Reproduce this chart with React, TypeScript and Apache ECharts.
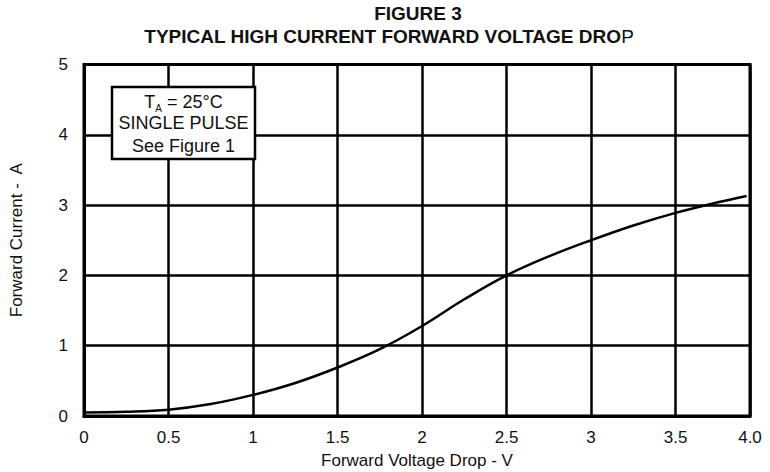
import React, { useEffect, useRef } from "react";
import * as echarts from "echarts";

const voltage = [0, 0.25, 0.5, 0.75, 1.0, 1.25, 1.5, 1.75, 2.0, 2.25, 2.5, 2.75, 3.0, 3.25, 3.5, 3.75, 3.92];
const current = [0.05, 0.06, 0.09, 0.17, 0.3, 0.47, 0.69, 0.95, 1.28, 1.66, 2.0, 2.27, 2.5, 2.71, 2.89, 3.04, 3.13];
const xMaxLabel = "4.0";
const xAxisMax = 3.94;
const yTicks = [0, 1, 2, 3, 4, 5];

const FONT = "'Liberation Sans', Arial, Helvetica, sans-serif";

export default function App() {
  const ref = useRef<HTMLDivElement>(null);
  useEffect(() => {
    if (!ref.current) return;
    const chart = echarts.init(ref.current, undefined, { renderer: "svg" });
    const option: any = {
      animation: false,
      backgroundColor: "#fff",
      grid: {
        left: 84,
        right: 20,
        top: 64.5,
        bottom: 56,
        containLabel: false,
        outerBoundsMode: "none",
        show: true,
        borderColor: "#000",
        borderWidth: 3,
        backgroundColor: "transparent",
      },
      xAxis: {
        type: "value",
        min: 0,
        max: xAxisMax,
        interval: 0.5,
        name: "Forward Voltage Drop - V",
        nameLocation: "middle",
        nameGap: 36,
        nameTextStyle: { fontFamily: FONT, fontSize: 17, color: "#111" },
        axisLine: { show: true, lineStyle: { color: "#000", width: 3 } },
        axisTick: { show: false },
        axisLabel: {
          fontFamily: FONT,
          fontSize: 17,
          color: "#111",
          margin: 13,
          formatter: (v: number) => (v >= xAxisMax - 1e-6 ? xMaxLabel : String(v)),
        },
        splitLine: { show: true, lineStyle: { color: "#000", width: 2.5 } },
      },
      yAxis: {
        type: "value",
        min: yTicks[0],
        max: yTicks[yTicks.length - 1],
        interval: 1,
        name: "Forward Current -  A",
        nameLocation: "middle",
        nameGap: 59,
        nameRotate: 90,
        nameTextStyle: { fontFamily: FONT, fontSize: 17, color: "#111" },
        axisLine: { show: true, lineStyle: { color: "#000", width: 3 } },
        axisTick: { show: false },
        axisLabel: { fontFamily: FONT, fontSize: 17, color: "#111", margin: 16 },
        splitLine: { show: true, lineStyle: { color: "#000", width: 2.5 } },
      },
      series: [
        {
          type: "line",
          data: voltage.map((v, i) => [v, current[i]]),
          smooth: 0.4,
          showSymbol: false,
          lineStyle: { color: "#000", width: 2.5 },
          z: 3,
        },
      ],
      graphic: [
        {
          type: "text",
          x: 418,
          y: 13,
          style: {
            text: "FIGURE 3",
            fontFamily: FONT,
            fontWeight: "bold",
            fontSize: 19,
            fill: "#111",
            textAlign: "center",
            textVerticalAlign: "middle",
          },
        },
        {
          type: "text",
          x: 389,
          y: 36,
          style: {
            text: "{b|TYPICAL HIGH CURRENT FORWARD VOLTAGE DRO}{n|P}",
            fontFamily: FONT,
            fontSize: 19,
            fill: "#111",
            textAlign: "center",
            textVerticalAlign: "middle",
            rich: {
              b: { fontFamily: FONT, fontWeight: "bold", fontSize: 19, fill: "#111" },
              n: { fontFamily: FONT, fontWeight: "normal", fontSize: 19, fill: "#111" },
            },
          },
        },
        {
          type: "rect",
          z: 100,
          shape: { x: 112, y: 87, width: 143, height: 72 },
          style: { fill: "#fff", stroke: "#000", lineWidth: 2.5 },
        },
        {
          type: "text",
          z: 101,
          x: 183.5,
          y: 102,
          style: {
            text: "{a|T}{s|A}{a| = 25°C}",
            fontFamily: FONT,
            fontSize: 18,
            fill: "#111",
            textAlign: "center",
            textVerticalAlign: "middle",
            rich: {
              a: { fontFamily: FONT, fontSize: 18, fill: "#111", lineHeight: 22, verticalAlign: "middle" },
              s: { fontFamily: FONT, fontSize: 10, fill: "#111", lineHeight: 22, verticalAlign: "bottom" },
            },
          },
        },
        {
          type: "text",
          z: 101,
          x: 183.5,
          y: 123,
          style: {
            text: "SINGLE PULSE",
            fontFamily: FONT,
            fontSize: 18,
            fill: "#111",
            textAlign: "center",
            textVerticalAlign: "middle",
          },
        },
        {
          type: "text",
          z: 101,
          x: 183.5,
          y: 146,
          style: {
            text: "See Figure 1",
            fontFamily: FONT,
            fontSize: 18,
            fill: "#111",
            textAlign: "center",
            textVerticalAlign: "middle",
          },
        },
      ],
    };
    chart.setOption(option);
    return () => chart.dispose();
  }, []);
  return (
    <div
      ref={ref}
      style={{ position: "fixed", left: 0, top: 0, width: 770, height: 472, background: "#fff" }}
    />
  );
}
